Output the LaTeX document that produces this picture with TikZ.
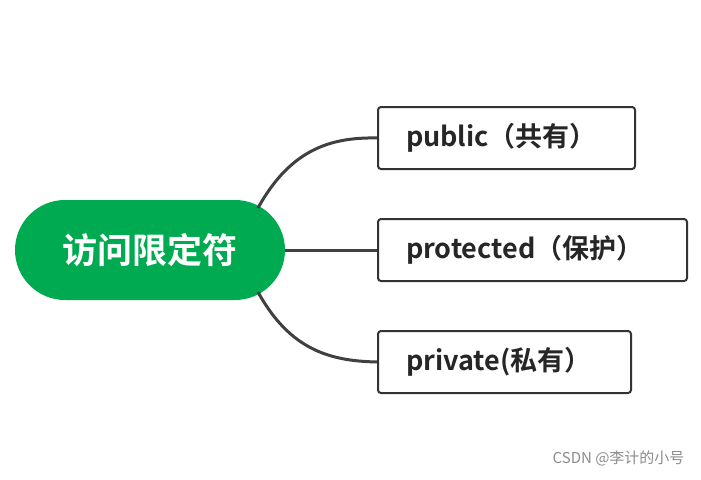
\documentclass[tikz,border=0pt]{standalone}
\usepackage{fontspec}
\setmainfont{Noto Sans CJK SC}[BoldFont={* Bold}]
\begin{document}
\begin{tikzpicture}[x=1pt,y=-1pt,
  leaf/.style={draw=black!80,line width=2pt,rounded corners=3pt,anchor=north west,inner sep=0pt,font=\bfseries\fontsize{27}{31}\selectfont,text=black!85,align=left},
  conn/.style={draw=black!75,line width=3pt}]
\useasboundingbox (0,0) rectangle (701,479);
\fill[white] (0,0) rectangle (701,479);
\node[fill={rgb,255:red,0;green,170;blue,80},rounded corners=50pt,minimum width=270pt,minimum height=100pt,text=white,font=\bfseries\fontsize{35}{40}\selectfont] (root) at (150,250) {访问限定符};
\node[leaf,minimum width=257pt,minimum height=62pt,text width=201pt] (a) at (377,106) {public（共有）};
\node[leaf,minimum width=309pt,minimum height=62pt,text width=253pt] (b) at (377,218) {protected（保护）};
\node[leaf,minimum width=253pt,minimum height=62pt,text width=197pt] (c) at (377,330) {private(私有）};
\draw[conn] (258,208) .. controls (290,150) and (330,137) .. (a.west);
\draw[conn] (root.east) -- (b.west);
\draw[conn] (258,292) .. controls (290,350) and (330,361) .. (c.west);
\node[text=black!45,font=\fontsize{15}{17}\selectfont,anchor=east] (wm) at (688,458) {CSDN @李计的小号};
\end{tikzpicture}
\end{document}
